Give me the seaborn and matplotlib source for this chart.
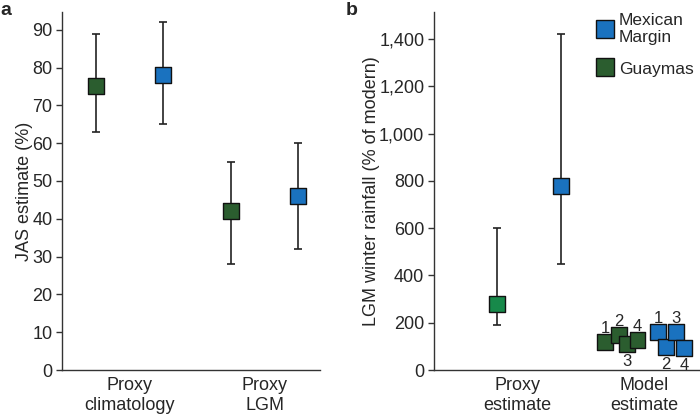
import matplotlib
matplotlib.use("Agg")
import matplotlib.pyplot as plt
import seaborn as sns
import pandas as pd
from matplotlib.lines import Line2D

sns.set_style("ticks")
plt.rcParams['font.family'] = ['Liberation Sans', 'DejaVu Sans']

# ---------------- data ----------------
# Panel a
a_categories = ["Proxy\nclimatology", "Proxy\nLGM"]
a_sites = ["Guaymas", "Mexican Margin"]
a_guaymas_val = [75, 42]
a_guaymas_lo = [63, 28]
a_guaymas_hi = [89, 55]
a_mexican_val = [78, 46]
a_mexican_lo = [65, 32]
a_mexican_hi = [92, 60]
a_yticks = [0, 10, 20, 30, 40, 50, 60, 70, 80, 90]

# Panel b
b_categories = ["Proxy\nestimate", "Model\nestimate"]
b_proxy_sites = ["Guaymas", "Mexican Margin"]
b_proxy_val = [280, 780]
b_proxy_lo = [190, 450]
b_proxy_hi = [600, 1420]
b_model_ids = ["1", "2", "3", "4"]
b_model_guaymas = [118, 148, 110, 127]
b_model_mexican = [160, 97, 160, 93]
b_yticks = [0, 200, 400, 600, 800, 1000, 1200, 1400]
b_yticklabels = ["0", "200", "400", "600", "800", "1,000", "1,200", "1,400"]

# ---------------- styles / layout ----------------
C_BLUE = "#1a72bf"
C_DGREEN = "#2b5d2f"
C_PGREEN = "#17894a"
MS = 11.5
FS = 13

fig = plt.figure(figsize=(7.0, 4.19), dpi=100)
axa = fig.add_axes([62/700, 1-370/419, (320-62)/700, (370-12)/419])
axb = fig.add_axes([434/700, 1-370/419, (699-434)/700, (370-12)/419])

# ---- panel a ----
a_off = {"Guaymas": -0.25, "Mexican Margin": 0.25}
rows = []
for i, c in enumerate(a_categories):
    rows.append(dict(x=i + a_off["Guaymas"], y=a_guaymas_val[i], lo=a_guaymas_lo[i],
                     hi=a_guaymas_hi[i], site="Guaymas"))
    rows.append(dict(x=i + a_off["Mexican Margin"], y=a_mexican_val[i], lo=a_mexican_lo[i],
                     hi=a_mexican_hi[i], site="Mexican Margin"))
dfa = pd.DataFrame(rows)
axa.errorbar(dfa["x"], dfa["y"], yerr=[dfa["y"] - dfa["lo"], dfa["hi"] - dfa["y"]],
             fmt="none", ecolor="#222222", elinewidth=1.2, capsize=3, capthick=1.2, zorder=2)
sns.scatterplot(data=dfa, x="x", y="y", hue="site",
                palette={"Guaymas": C_DGREEN, "Mexican Margin": C_BLUE},
                marker="s", s=MS**2, edgecolor="#111111", linewidth=1.0,
                legend=False, ax=axa, zorder=3)
axa.set_xlim(-0.5, 1.41)
axa.set_ylim(0, 94.7)
axa.set_yticks(a_yticks)
axa.set_xticks(range(len(a_categories)))
axa.set_xticklabels(a_categories)
axa.set_xlabel("")
axa.set_ylabel("JAS estimate (%)", fontsize=FS, labelpad=-1)

# ---- panel b ----
p_off = {"Guaymas": -0.16, "Mexican Margin": 0.34}
g_off = [-0.31, -0.20, -0.14, -0.055]
m_off = [0.11, 0.17, 0.25, 0.31]
dfp = pd.DataFrame(dict(x=[0 + p_off[s] for s in b_proxy_sites], y=b_proxy_val,
                        lo=b_proxy_lo, hi=b_proxy_hi, site=b_proxy_sites))
axb.errorbar(dfp["x"], dfp["y"], yerr=[dfp["y"] - dfp["lo"], dfp["hi"] - dfp["y"]],
             fmt="none", ecolor="#222222", elinewidth=1.2, capsize=3, capthick=1.2, zorder=2)
sns.scatterplot(data=dfp, x="x", y="y", hue="site",
                palette={"Guaymas": C_PGREEN, "Mexican Margin": C_BLUE},
                marker="s", s=MS**2, edgecolor="#111111", linewidth=1.0,
                legend=False, ax=axb, zorder=3)

mrows = []
for k, mid in enumerate(b_model_ids):
    mrows.append(dict(x=1 + g_off[k], y=b_model_guaymas[k], site="Guaymas", id=mid))
for k, mid in enumerate(b_model_ids):
    mrows.append(dict(x=1 + m_off[k], y=b_model_mexican[k], site="Mexican Margin", id=mid))
dfm = pd.DataFrame(mrows)
sns.scatterplot(data=dfm, x="x", y="y", hue="site",
                palette={"Guaymas": C_DGREEN, "Mexican Margin": C_BLUE},
                marker="s", s=MS**2, edgecolor="#111111", linewidth=1.0,
                legend=False, ax=axb, zorder=3)
# number labels
g_pos = ["above", "above", "below", "above"]
m_pos = ["above", "below", "above", "below"]
for (_, r), pos in zip(dfm.iterrows(), g_pos + m_pos):
    if pos == "above":
        axb.annotate(r["id"], (r["x"], r["y"]), xytext=(0, 6.5), textcoords="offset points",
                     ha="center", va="baseline", fontsize=12)
    else:
        axb.annotate(r["id"], (r["x"], r["y"]), xytext=(0, -7), textcoords="offset points",
                     ha="center", va="top", fontsize=12)

axb.set_xlim(-0.66, 1.43)
axb.set_ylim(0, 1514)
axb.set_yticks(b_yticks)
axb.set_yticklabels(b_yticklabels)
axb.set_xticks(range(len(b_categories)))
axb.set_xticklabels(b_categories)
axb.set_xlabel("")
axb.set_ylabel("LGM winter rainfall (% of modern)", fontsize=FS, labelpad=-1)

handles = [Line2D([], [], marker="s", ls="none", markersize=12.5, markerfacecolor=C_BLUE,
                  markeredgecolor="#111111", markeredgewidth=1.0),
           Line2D([], [], marker="s", ls="none", markersize=12.5, markerfacecolor=C_DGREEN,
                  markeredgecolor="#111111", markeredgewidth=1.0)]
axb.legend(handles, ["Mexican\nMargin", "Guaymas"], loc="upper left",
           bbox_to_anchor=(0.59, 1.018), frameon=False, fontsize=12.5,
           handlelength=0.9, handletextpad=0.35, labelspacing=0.95, borderaxespad=0)

for ax in (axa, axb):
    sns.despine(ax=ax)
    ax.tick_params(axis="y", length=4, width=1, labelsize=FS, color="#333333", pad=3)
    ax.tick_params(axis="x", length=0, labelsize=FS, pad=5)
    for sp in ("left", "bottom"):
        ax.spines[sp].set_linewidth(1.0)
        ax.spines[sp].set_color("#333333")

fig.text(0.0, 0.995, "a", fontsize=14, fontweight="bold", va="top", ha="left")
fig.text(346/700, 0.995, "b", fontsize=14, fontweight="bold", va="top", ha="left")

fig.savefig("out.png", dpi=100)
